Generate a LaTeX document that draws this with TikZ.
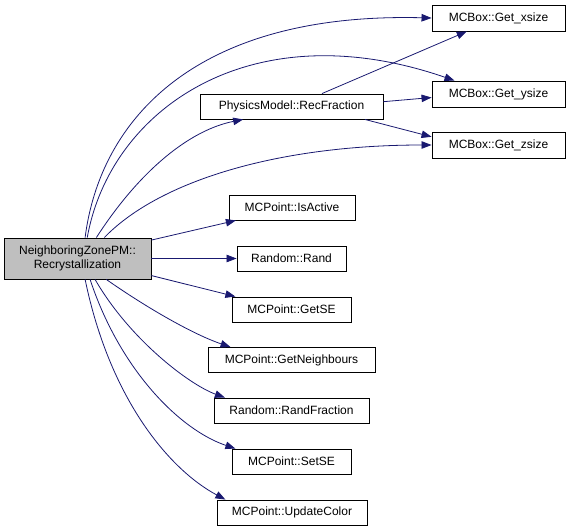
\documentclass[tikz,border=0pt]{standalone}
\usepackage{fontspec}
\setmainfont{Liberation Sans}
\usetikzlibrary{arrows.meta,calc,positioning}
\definecolor{edgeblue}{HTML}{191970}
\definecolor{maingray}{HTML}{BFBFBF}
\tikzset{fn/.style={
            draw,
            fill=white,
            line width=0.9pt,
            inner xsep=0pt,
            inner ysep=0pt,
            minimum height=25pt,
            font=\fontsize{12}{14}\selectfont
        },
        mainfn/.style={
            fn,
            fill=maingray,
            align=center,
            minimum width=147pt,
            minimum height=41pt
        },
        call/.style={
            draw=edgeblue,
            line width=0.8pt,
            -{Triangle[length=10pt,width=7.5pt]},
            fill=none
        }
    }
\begin{document}
\begin{tikzpicture}[x=1pt,y=-1pt]
        \useasboundingbox (0,0) rectangle (571,531);
        \node[mainfn] at (77.5,258.5) (main) {NeighboringZonePM::\\Recrystallization};
        \node[fn,minimum width=183pt] at (291.5,106.5) (recfrac) {PhysicsModel::RecFraction};
        \node[fn,minimum width=133pt,minimum height=26pt] at (498.5,18) (xsize) {MCBox::Get\_xsize};
        \node[fn,minimum width=133pt,minimum height=26pt] at (498.5,94) (ysize) {MCBox::Get\_ysize};
        \node[fn,minimum width=133pt,minimum height=26pt] at (498.5,145) (zsize) {MCBox::Get\_zsize};
        \node[fn,minimum width=126pt] at (292,207.5) (isactive) {MCPoint::IsActive};
        \node[fn,minimum width=109pt] at (291.5,258.5) (rand) {Random::Rand};
        \node[fn,minimum width=119pt] at (291.5,309.5) (getse) {MCPoint::GetSE};
        \node[fn,minimum width=167pt] at (291.5,360) (neigh) {MCPoint::GetNeighbours};
        \node[fn,minimum width=155pt] at (291.5,410.5) (randfrac) {Random::RandFraction};
        \node[fn,minimum width=119pt] at (291.5,461.5) (setse) {MCPoint::SetSE};
        \node[fn,minimum width=150pt] at (292,512.5) (updcol) {MCPoint::UpdateColor};
        \draw[call] (main.70) .. controls (100,120) and (195,12) .. (xsize.west);
        \draw[call] (main.65) .. controls (110,110) and (250,10) .. (ysize.163);
        \draw[call] (main.48) .. controls (140,170) and (190,130) .. (recfrac.195);
        \draw[call] (main.38) .. controls (160,180) and (280,145) .. (zsize.west);
        \draw[call] (main.14) -- (isactive.193);
        \draw[call] (main.east) -- (rand.west);
        \draw[call] (main.-13) -- (getse.167);
        \draw[call] (main.-36) .. controls (150,310) and (195,335) .. (neigh.168);
        \draw[call] (main.-50) .. controls (130,340) and (190,385) .. (randfrac.169);
        \draw[call] (main.-59) .. controls (120,370) and (180,430) .. (setse.167);
        \draw[call] (main.-70) .. controls (110,400) and (170,470) .. (updcol.169);
        \draw[call] (recfrac.23) -- (xsize.203);
        \draw[call] (recfrac.3) -- (ysize.183);
        \draw[call] (recfrac.350) -- (zsize.173);
    \end{tikzpicture}
\end{document}
